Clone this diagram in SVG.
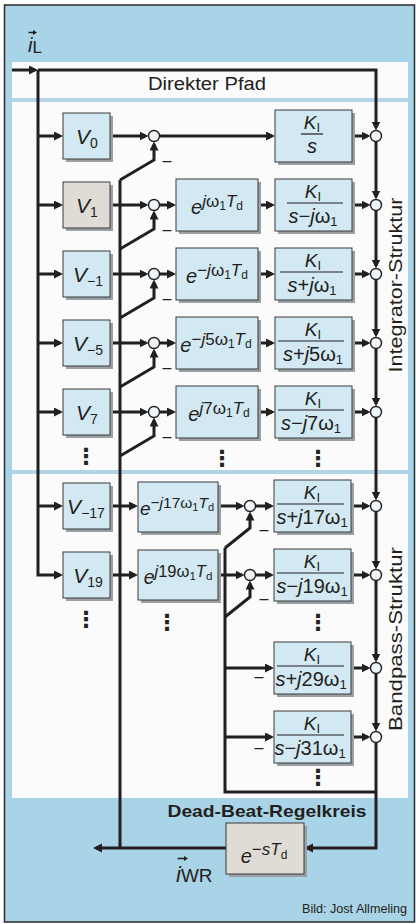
<svg xmlns="http://www.w3.org/2000/svg" width="416" height="924" viewBox="0 0 416 924">
<defs>
<style>
.frame{fill:#a9d3e6;stroke:#2a2a2a;stroke-width:1.5}
.panel{fill:#fafbfa}
.sep{stroke:#b0d6e8;stroke-width:4}
.box{fill:#d2e8f2;stroke:#3a3a3a;stroke-width:1}
.box2{fill:#e0dcd5;stroke:#3a3a3a;stroke-width:1}
.sh{fill:#9aa0a3}
.ln{fill:none;stroke:#231f20;stroke-width:3;stroke-linejoin:miter}
.arr{marker-end:url(#ah)}
.sum{fill:#eef6f9;stroke:#231f20;stroke-width:1.4}
.fl{stroke:#231f20;stroke-width:1.2}
text{font-family:"Liberation Sans",Arial,sans-serif;fill:#231f20}
.it{font-style:italic}
.v{font-size:21px}
.vs{font-size:14px}
.m{font-size:20px}
.sup{font-size:17px}
.ss{font-size:12px}
.k{font-size:19px}
.ks{font-size:13px}
.den{font-size:20px}
.dots{font-family:"DejaVu Sans",sans-serif;font-size:22px;font-weight:bold}
.neg{font-size:16px}
</style>
<marker id="ah" markerUnits="userSpaceOnUse" markerWidth="10" markerHeight="10" refX="6" refY="4.5" orient="auto"><path d="M0,0 L9,4.5 L0,9 z" fill="#231f20"/></marker>
</defs>
<rect x="0" y="0" width="416" height="924" fill="#ffffff"/>
<rect class="frame" x="4.5" y="5" width="410" height="917"/>
<rect class="panel" x="12" y="62" width="396" height="736"/>
<line class="sep" x1="12" y1="100" x2="408" y2="100"/>
<line class="sep" x1="12" y1="472" x2="408" y2="472"/>

<g id="labels">
<g id="iL"><text x="28" y="52"><tspan class="it" font-size="20">i</tspan><tspan font-size="17" dy="1">L</tspan></text><path d="M28.5,32.5 H34" stroke="#231f20" stroke-width="1.5"/><path d="M33,30 L37,32.5 L33,35 z" fill="#231f20"/></g>
<text x="207" y="90" text-anchor="middle" font-size="18" textLength="118" lengthAdjust="spacingAndGlyphs">Direkter Pfad</text>
<text transform="translate(402,285) rotate(-90)" text-anchor="middle" font-size="19" textLength="175" lengthAdjust="spacingAndGlyphs">Integrator-Struktur</text>
<text transform="translate(402,639) rotate(-90)" text-anchor="middle" font-size="19" textLength="184" lengthAdjust="spacingAndGlyphs">Bandpass-Struktur</text>
<text x="267" y="817" text-anchor="middle" font-size="17" font-weight="bold" textLength="199" lengthAdjust="spacingAndGlyphs">Dead-Beat-Regelkreis</text>
<g id="iWR"><text x="176" y="882"><tspan class="it" font-size="22">i</tspan><tspan font-size="19">WR</tspan></text><path d="M177.5,858.5 H185" stroke="#231f20" stroke-width="1.5"/><path d="M184,856 L188,858.5 L184,861 z" fill="#231f20"/></g>
<text x="407" y="913" text-anchor="end" font-size="13.5" textLength="105" lengthAdjust="spacingAndGlyphs">Bild: Jost Allmeling</text>
</g>

<g id="connectors">
<path class="ln arr" d="M12,70 H35"/>
<path class="ln arr" d="M38,70 H376 V127.5"/>
<path class="ln arr" d="M38,70 V575 H60"/>
<path class="ln arr" d="M38,136 H60"/>
<path class="ln arr" d="M38,205 H60"/>
<path class="ln arr" d="M38,274 H60"/>
<path class="ln arr" d="M38,343 H60"/>
<path class="ln arr" d="M38,412 H60"/>
<path class="ln arr" d="M38,506 H60"/>
<path class="ln arr" d="M110,136 H145.5"/>
<path class="ln arr" d="M159.5,136 H272"/>
<path class="ln arr" d="M352,136 H367.5"/>
<path class="ln arr" d="M110,205 H145.5"/>
<path class="ln arr" d="M159.5,205 H173"/>
<path class="ln arr" d="M258,205 H272"/>
<path class="ln arr" d="M352,205 H367.5"/>
<path class="ln arr" d="M110,274 H145.5"/>
<path class="ln arr" d="M159.5,274 H173"/>
<path class="ln arr" d="M258,274 H272"/>
<path class="ln arr" d="M352,274 H367.5"/>
<path class="ln arr" d="M110,343 H145.5"/>
<path class="ln arr" d="M159.5,343 H173"/>
<path class="ln arr" d="M258,343 H272"/>
<path class="ln arr" d="M352,343 H367.5"/>
<path class="ln arr" d="M110,412 H145.5"/>
<path class="ln arr" d="M159.5,412 H173"/>
<path class="ln arr" d="M258,412 H272"/>
<path class="ln arr" d="M352,412 H367.5"/>
<path class="ln" d="M120,180 V848"/>
<path class="ln arr" d="M120,180 L154,160 V144.5"/>
<path class="ln arr" d="M120,249 L154,229 V213.5"/>
<path class="ln arr" d="M120,318 L154,298 V282.5"/>
<path class="ln arr" d="M120,387 L154,367 V351.5"/>
<path class="ln arr" d="M120,456 L154,436 V420.5"/>
<path class="ln arr" d="M110,506 H135"/>
<path class="ln arr" d="M218,506 H241.5"/>
<path class="ln arr" d="M255.5,506 H271"/>
<path class="ln arr" d="M351,506 H367.5"/>
<path class="ln arr" d="M110,575 H135"/>
<path class="ln arr" d="M218,575 H241.5"/>
<path class="ln arr" d="M255.5,575 H271"/>
<path class="ln arr" d="M351,575 H367.5"/>
<path class="ln arr" d="M225,668 H271"/>
<path class="ln arr" d="M351,668 H367.5"/>
<path class="ln arr" d="M225,737 H271"/>
<path class="ln arr" d="M351,737 H367.5"/>
<path class="ln" d="M376,792 H225 V548"/>
<path class="ln arr" d="M225,548 L250,528 V514.5"/>
<path class="ln arr" d="M225,617 L250,597 V583.5"/>
<path class="ln arr" d="M376,141.5 V196.5"/>
<path class="ln arr" d="M376,210.5 V265.5"/>
<path class="ln arr" d="M376,279.5 V334.5"/>
<path class="ln arr" d="M376,348.5 V403.5"/>
<path class="ln arr" d="M376,417.5 V497.5"/>
<path class="ln arr" d="M376,511.5 V566.5"/>
<path class="ln arr" d="M376,580.5 V659.5"/>
<path class="ln arr" d="M376,673.5 V728.5"/>
<path class="ln arr" d="M376,742.5 V848 H307"/>
<path class="ln arr" d="M226,848 H96"/>
</g>

<g id="V0"><rect class="sh" x="66" y="116" width="47" height="46"/><rect class="box" x="63" y="113" width="47" height="46"/><text x="87" y="144" text-anchor="middle"><tspan class="it v">V</tspan><tspan class="vs" dy="4">0</tspan></text></g>
<g id="V1"><rect class="sh" x="66" y="185" width="47" height="46"/><rect class="box2" x="63" y="182" width="47" height="46"/><text x="87" y="213" text-anchor="middle"><tspan class="it v">V</tspan><tspan class="vs" dy="4">1</tspan></text></g>
<g id="Vm1"><rect class="sh" x="66" y="254" width="47" height="46"/><rect class="box" x="63" y="251" width="47" height="46"/><text x="88" y="282" text-anchor="middle"><tspan class="it v">V</tspan><tspan class="vs" dy="4">−1</tspan></text></g>
<g id="Vm5"><rect class="sh" x="66" y="323" width="47" height="46"/><rect class="box" x="63" y="320" width="47" height="46"/><text x="88" y="351" text-anchor="middle"><tspan class="it v">V</tspan><tspan class="vs" dy="4">−5</tspan></text></g>
<g id="V7"><rect class="sh" x="66" y="392" width="47" height="46"/><rect class="box" x="63" y="389" width="47" height="46"/><text x="87" y="420" text-anchor="middle"><tspan class="it v">V</tspan><tspan class="vs" dy="4">7</tspan></text></g>
<g id="Vm17"><rect class="sh" x="66" y="486" width="47" height="46"/><rect class="box" x="63" y="483" width="47" height="46"/><text x="86" y="514" text-anchor="middle"><tspan class="it v">V</tspan><tspan class="vs" dy="4">−17</tspan></text></g>
<g id="V19"><rect class="sh" x="66" y="555" width="47" height="46"/><rect class="box" x="63" y="552" width="47" height="46"/><text x="88" y="583" text-anchor="middle"><tspan class="it v">V</tspan><tspan class="vs" dy="4">19</tspan></text></g>

<g id="S0"><circle class="sum" cx="154" cy="136" r="5.5"/><text class="neg" x="167" y="166" text-anchor="middle">–</text></g>
<g id="S1"><circle class="sum" cx="154" cy="205" r="5.5"/><text class="neg" x="167" y="235" text-anchor="middle">–</text></g>
<g id="S2"><circle class="sum" cx="154" cy="274" r="5.5"/><text class="neg" x="167" y="304" text-anchor="middle">–</text></g>
<g id="S3"><circle class="sum" cx="154" cy="343" r="5.5"/><text class="neg" x="167" y="373" text-anchor="middle">–</text></g>
<g id="S4"><circle class="sum" cx="154" cy="412" r="5.5"/><text class="neg" x="167" y="442" text-anchor="middle">–</text></g>
<g id="S5"><circle class="sum" cx="250" cy="506" r="5.5"/><text class="neg" x="264" y="534.5" text-anchor="middle">–</text></g>
<g id="S6"><circle class="sum" cx="250" cy="575" r="5.5"/><text class="neg" x="264" y="603.5" text-anchor="middle">–</text></g>
<g id="S7"><text class="neg" x="259" y="681.5" text-anchor="middle">–</text></g>
<g id="S8"><text class="neg" x="259" y="752.5" text-anchor="middle">–</text></g>

<g id="E1"><rect class="sh" x="179" y="182" width="82" height="52"/><rect class="box" x="176" y="179" width="82" height="52"/><text class="m" x="217" y="214" text-anchor="middle"><tspan class="it">e</tspan><tspan class="sup" dy="-7"><tspan class="it">j</tspan>ω<tspan class="ss" dy="3">1</tspan><tspan class="it" dy="-3">T</tspan><tspan class="ss" dy="3">d</tspan></tspan></text></g>
<g id="E2"><rect class="sh" x="179" y="251" width="82" height="52"/><rect class="box" x="176" y="248" width="82" height="52"/><text class="m" x="217" y="283" text-anchor="middle"><tspan class="it">e</tspan><tspan class="sup" dy="-7">−<tspan class="it">j</tspan>ω<tspan class="ss" dy="3">1</tspan><tspan class="it" dy="-3">T</tspan><tspan class="ss" dy="3">d</tspan></tspan></text></g>
<g id="E3"><rect class="sh" x="179" y="320" width="82" height="52"/><rect class="box" x="176" y="317" width="82" height="52"/><text class="m" x="216" y="352" text-anchor="middle"><tspan class="it">e</tspan><tspan class="sup" dy="-7">−<tspan class="it">j</tspan>5ω<tspan class="ss" dy="3">1</tspan><tspan class="it" dy="-3">T</tspan><tspan class="ss" dy="3">d</tspan></tspan></text></g>
<g id="E4"><rect class="sh" x="179" y="389" width="82" height="52"/><rect class="box" x="176" y="386" width="82" height="52"/><text class="m" x="219" y="421" text-anchor="middle"><tspan class="it">e</tspan><tspan class="sup" dy="-7"><tspan class="it">j</tspan>7ω<tspan class="ss" dy="3">1</tspan><tspan class="it" dy="-3">T</tspan><tspan class="ss" dy="3">d</tspan></tspan></text></g>
<g id="E5"><rect class="sh" x="141" y="485" width="80" height="50"/><rect class="box" x="138" y="482" width="80" height="50"/><text x="177" y="515" text-anchor="middle" font-size="19"><tspan class="it">e</tspan><tspan font-size="15.5" dy="-7">−<tspan class="it">j</tspan>17ω<tspan font-size="11" dy="3">1</tspan><tspan class="it" dy="-3">T</tspan><tspan font-size="11" dy="3">d</tspan></tspan></text></g>
<g id="E6"><rect class="sh" x="141" y="553" width="80" height="50"/><rect class="box" x="138" y="550" width="80" height="50"/><text x="178" y="584" text-anchor="middle" font-size="19.5"><tspan class="it">e</tspan><tspan font-size="16.5" dy="-7"><tspan class="it">j</tspan>19ω<tspan font-size="11.5" dy="3">1</tspan><tspan class="it" dy="-3">T</tspan><tspan font-size="11.5" dy="3">d</tspan></tspan></text></g>

<g id="K0"><rect class="sh" x="278" y="113" width="77" height="52"/><rect class="box" x="275" y="110" width="77" height="52"/><text x="312" y="129" text-anchor="middle"><tspan class="it k">K</tspan><tspan class="ks" dy="3">I</tspan></text><line class="fl" x1="301" y1="134" x2="323" y2="134"/><text class="den" x="312" y="153" text-anchor="middle"><tspan class="it">s</tspan></text></g>
<g id="K1"><rect class="sh" x="278" y="182" width="77" height="52"/><rect class="box" x="275" y="179" width="77" height="52"/><text x="313" y="198" text-anchor="middle"><tspan class="it k">K</tspan><tspan class="ks" dy="3">I</tspan></text><line class="fl" x1="287" y1="203" x2="343" y2="203"/><text class="den" x="313" y="223" text-anchor="middle"><tspan class="it">s</tspan>−<tspan class="it">j</tspan>ω<tspan class="ks" dy="3">1</tspan></text></g>
<g id="K2"><rect class="sh" x="278" y="251" width="77" height="52"/><rect class="box" x="275" y="248" width="77" height="52"/><text x="313" y="267" text-anchor="middle"><tspan class="it k">K</tspan><tspan class="ks" dy="3">I</tspan></text><line class="fl" x1="280" y1="272" x2="343" y2="272"/><text class="den" x="312" y="292" text-anchor="middle"><tspan class="it">s</tspan>+<tspan class="it">j</tspan>ω<tspan class="ks" dy="3">1</tspan></text></g>
<g id="K3"><rect class="sh" x="278" y="320" width="77" height="52"/><rect class="box" x="275" y="317" width="77" height="52"/><text x="313" y="336" text-anchor="middle"><tspan class="it k">K</tspan><tspan class="ks" dy="3">I</tspan></text><line class="fl" x1="278" y1="341" x2="344" y2="341"/><text class="den" x="313" y="361" text-anchor="middle"><tspan class="it">s</tspan>+<tspan class="it">j</tspan>5ω<tspan class="ks" dy="3">1</tspan></text></g>
<g id="K4"><rect class="sh" x="278" y="389" width="77" height="52"/><rect class="box" x="275" y="386" width="77" height="52"/><text x="313" y="405" text-anchor="middle"><tspan class="it k">K</tspan><tspan class="ks" dy="3">I</tspan></text><line class="fl" x1="278" y1="410" x2="344" y2="410"/><text class="den" x="311" y="430" text-anchor="middle"><tspan class="it">s</tspan>−<tspan class="it">j</tspan>7ω<tspan class="ks" dy="3">1</tspan></text></g>
<g id="K5"><rect class="sh" x="277" y="483" width="77" height="52"/><rect class="box" x="274" y="480" width="77" height="52"/><text x="312" y="499" text-anchor="middle"><tspan class="it k">K</tspan><tspan class="ks" dy="3">I</tspan></text><line class="fl" x1="277" y1="504" x2="344" y2="504"/><text class="den" x="312" y="524" text-anchor="middle"><tspan class="it">s</tspan>+<tspan class="it">j</tspan>17ω<tspan class="ks" dy="3">1</tspan></text></g>
<g id="K6"><rect class="sh" x="277" y="552" width="77" height="52"/><rect class="box" x="274" y="549" width="77" height="52"/><text x="312" y="568" text-anchor="middle"><tspan class="it k">K</tspan><tspan class="ks" dy="3">I</tspan></text><line class="fl" x1="277" y1="573" x2="344" y2="573"/><text class="den" x="312" y="593" text-anchor="middle"><tspan class="it">s</tspan>−<tspan class="it">j</tspan>19ω<tspan class="ks" dy="3">1</tspan></text></g>
<g id="K7"><rect class="sh" x="277" y="645" width="77" height="52"/><rect class="box" x="274" y="642" width="77" height="52"/><text x="312" y="661" text-anchor="middle"><tspan class="it k">K</tspan><tspan class="ks" dy="3">I</tspan></text><line class="fl" x1="277" y1="666" x2="344" y2="666"/><text class="den" x="311" y="686" text-anchor="middle"><tspan class="it">s</tspan>+<tspan class="it">j</tspan>29ω<tspan class="ks" dy="3">1</tspan></text></g>
<g id="K8"><rect class="sh" x="277" y="714" width="77" height="52"/><rect class="box" x="274" y="711" width="77" height="52"/><text x="312" y="730" text-anchor="middle"><tspan class="it k">K</tspan><tspan class="ks" dy="3">I</tspan></text><line class="fl" x1="277" y1="735" x2="344" y2="735"/><text class="den" x="310" y="755" text-anchor="middle"><tspan class="it">s</tspan>−<tspan class="it">j</tspan>31ω<tspan class="ks" dy="3">1</tspan></text></g>

<g id="R0"><circle class="sum" cx="376" cy="136" r="5.5"/></g>
<g id="R1"><circle class="sum" cx="376" cy="205" r="5.5"/></g>
<g id="R2"><circle class="sum" cx="376" cy="274" r="5.5"/></g>
<g id="R3"><circle class="sum" cx="376" cy="343" r="5.5"/></g>
<g id="R4"><circle class="sum" cx="376" cy="412" r="5.5"/></g>
<g id="R5"><circle class="sum" cx="376" cy="506" r="5.5"/></g>
<g id="R6"><circle class="sum" cx="376" cy="575" r="5.5"/></g>
<g id="R7"><circle class="sum" cx="376" cy="668" r="5.5"/></g>
<g id="R8"><circle class="sum" cx="376" cy="737" r="5.5"/></g>

<g id="DB"><rect class="sh" x="229" y="826" width="78" height="51"/><rect class="box2" x="226" y="823" width="78" height="51"/><text x="264" y="863" text-anchor="middle"><tspan class="it" font-size="20">e</tspan><tspan font-size="17" dy="-8">−<tspan class="it">sT</tspan></tspan><tspan font-size="12" dy="4">d</tspan></text></g>

<g id="ellipses">
<text class="dots" x="86" y="464" text-anchor="middle">⋮</text>
<text class="dots" x="222" y="466" text-anchor="middle">⋮</text>
<text class="dots" x="318" y="466" text-anchor="middle">⋮</text>
<text class="dots" x="86" y="627" text-anchor="middle">⋮</text>
<text class="dots" x="167" y="630" text-anchor="middle">⋮</text>
<text class="dots" x="318" y="630" text-anchor="middle">⋮</text>
<text class="dots" x="318" y="785" text-anchor="middle">⋮</text>
</g>
</svg>
